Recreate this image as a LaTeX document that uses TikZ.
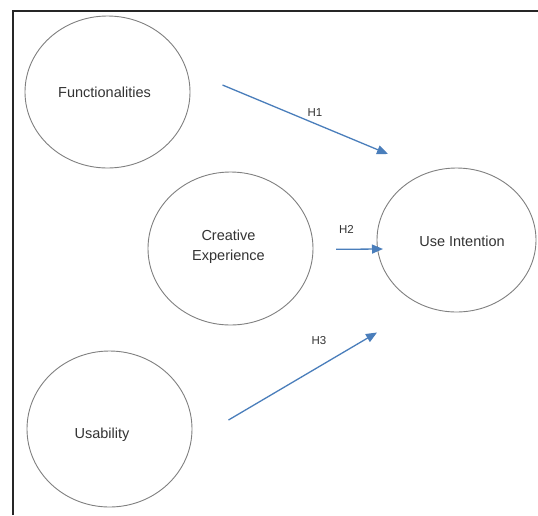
\documentclass[tikz,border=0pt]{standalone}
\usepackage{fontspec}
\setmainfont{Liberation Sans}
\usetikzlibrary{shapes.geometric,arrows.meta}
\definecolor{arrowblue}{HTML}{4A7EBB}
\definecolor{circgray}{HTML}{808080}
\definecolor{textgray}{HTML}{333333}
\tikzset{
  construct/.style={ellipse, draw=circgray, line width=0.9pt, inner sep=0pt,
    text=textgray, font=\fontsize{14.5}{20}\selectfont, align=center},
  hyp/.style={draw=arrowblue, line width=1.3pt, -{Triangle[length=11pt,width=9pt]}},
  hyplabel/.style={text=textgray, font=\fontsize{11.5}{13}\selectfont, inner sep=0pt},
  frameline/.style={draw=black!85, line width=1.4pt}
}
\begin{document}
\begin{tikzpicture}[x=1pt,y=-1pt]
\useasboundingbox (0,0) rectangle (538,515);
\fill[white] (0,0) rectangle (538,515);
\coordinate (fa) at (13,515);
\coordinate (fb) at (13,11);
\coordinate (fc) at (538,11);
\draw[frameline] (fa) -- (fb) -- (fc);

\node[construct, minimum width=165pt, minimum height=152pt] (func) at (107.5,92) {};
\node[text=textgray, font=\fontsize{14.5}{20}\selectfont, inner sep=0pt] (functext) at (104.5,92) {Functionalities};
\node[construct, minimum width=165pt, minimum height=153pt] (crea) at (230.5,248.5) {};
\node[text=textgray, font=\fontsize{14.5}{20}\selectfont, align=center, inner sep=0pt] (creatext) at (228.5,247) {Creative\\Experience};
\node[construct, minimum width=165pt, minimum height=156pt] (usab) at (109.5,429) {};
\node[text=textgray, font=\fontsize{14.5}{20}\selectfont, inner sep=0pt] (usabtext) at (102,435) {Usability};
\node[construct, minimum width=159pt, minimum height=144pt] (use) at (456.5,240) {};
\node[text=textgray, font=\fontsize{14.5}{20}\selectfont, inner sep=0pt] (usetext) at (462,241) {Use Intention};

\coordinate (h1s) at (222.5,85);
\coordinate (h1e) at (388,154);
\coordinate (h2s) at (336,249.3);
\coordinate (h2e) at (383,249);
\coordinate (h3s) at (228.5,420);
\coordinate (h3e) at (377,332.5);
\draw[hyp] (h1s) -- (h1e);
\draw[hyp] (h2s) -- (h2e);
\draw[hyp] (h3s) -- (h3e);
\node[hyplabel] (l1) at (315,112.5) {H1};
\node[hyplabel] (l2) at (346.5,229) {H2};
\node[hyplabel] (l3) at (319,340.5) {H3};
\end{tikzpicture}
\end{document}
